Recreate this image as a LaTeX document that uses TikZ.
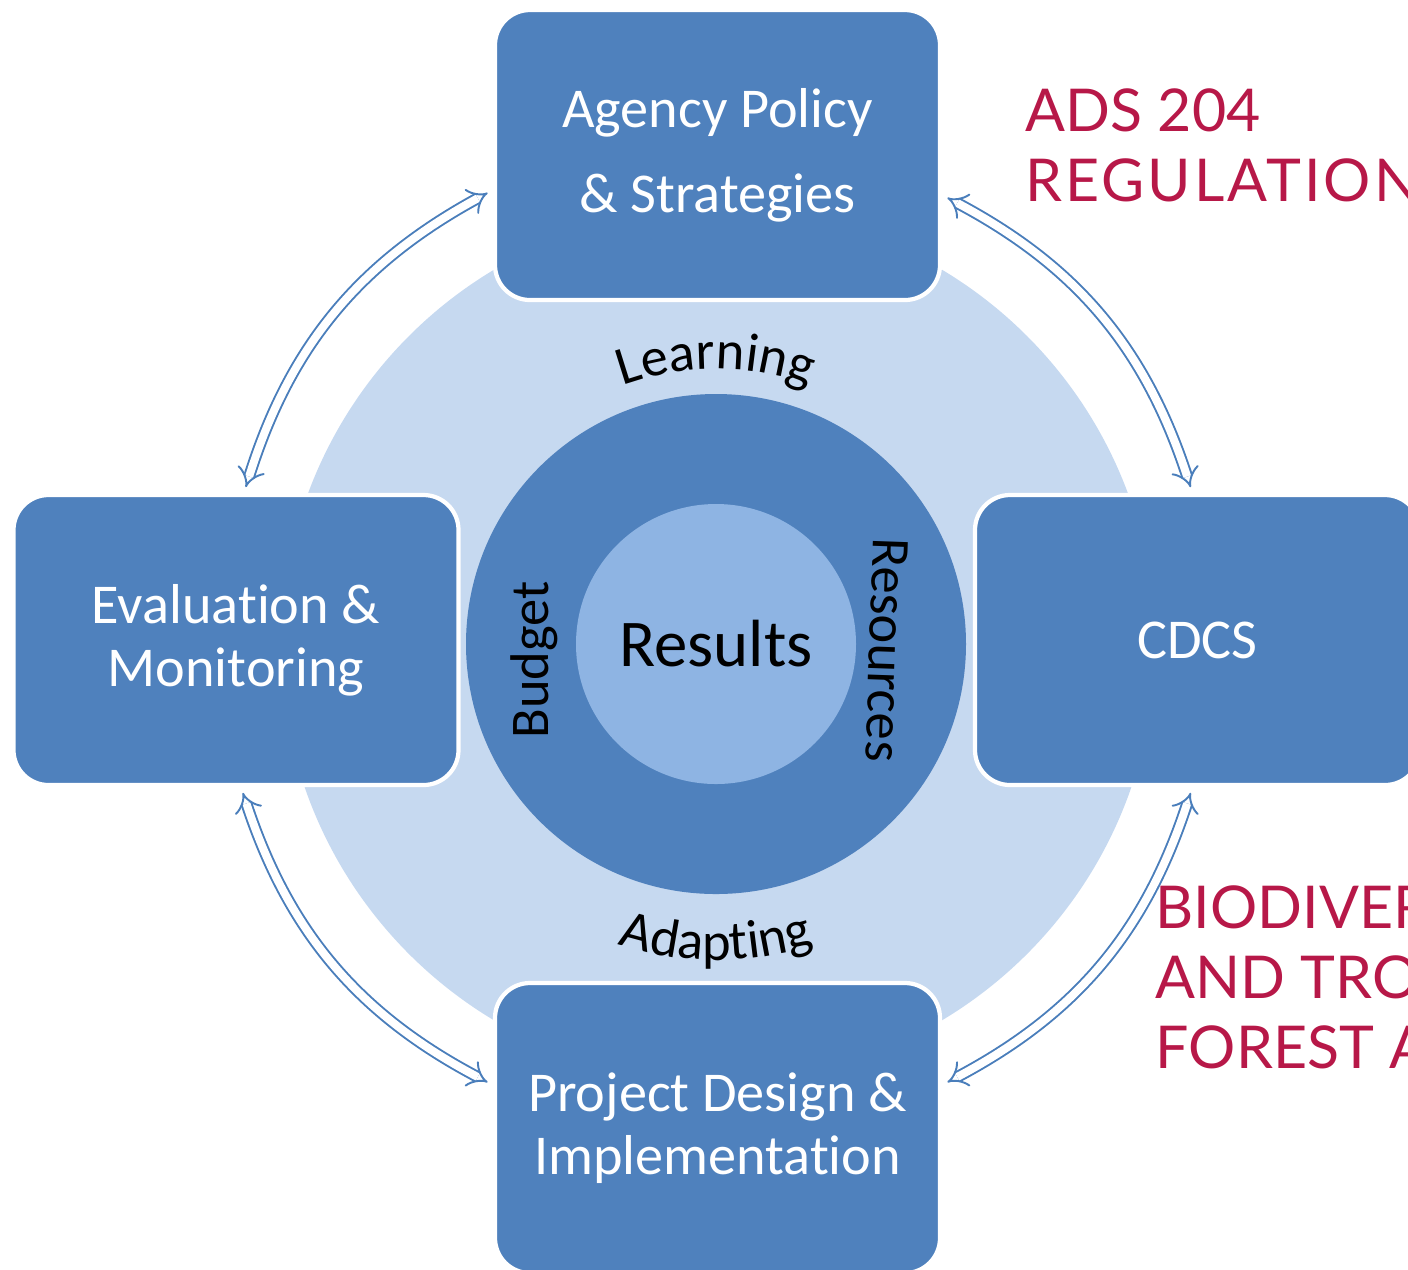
\documentclass[tikz,border=0pt]{standalone}
\usepackage{fontspec}
\setmainfont[Ligatures=NoCommon]{Carlito}
\newfontfamily\gillfont{Lato}
\usetikzlibrary{arrows.meta,decorations.text}
\definecolor{boxblue}{RGB}{79,129,189}
\definecolor{paleblue}{RGB}{198,217,240}
\definecolor{coreblue}{RGB}{142,180,227}
\definecolor{linkblue}{RGB}{74,126,187}
\definecolor{regred}{RGB}{183,24,72}
\tikzset{
  stagebox/.style={rectangle, rounded corners=0.35cm, fill=boxblue, draw=white,
    line width=1.2pt, minimum width=4.45cm, minimum height=2.9cm, align=center,
    text=white, font=\fontsize{16}{18}\selectfont},
  cyclelink/.style={draw=linkblue, double=white, double distance=0.08cm,
    line width=0.55pt, {Implies[scale=1.5]}-{Implies[scale=1.5]},
    shorten >=0.06cm, shorten <=0.06cm},
  regtext/.style={text=regred, font=\gillfont\fontsize{16.8}{19.9}\selectfont,
    align=left, anchor=north west, inner sep=0pt}
}
\newcommand\arcfont{\fontsize{15.5}{18}\selectfont}
\begin{document}
\begin{tikzpicture}
\useasboundingbox (0,0) rectangle (14.08,-12.69);
\clip (0,0) rectangle (14.08,-12.69);
\coordinate (hub) at (7.16,-6.44);
% circles in the middle
\node[circle,fill=paleblue,inner sep=0pt,minimum size=8.74cm] (disk) at (7.18,-6.45) {};
\node[circle,fill=boxblue,inner sep=0pt,minimum size=5cm] (ring) at (hub) {};
\node[circle,fill=coreblue,inner sep=0pt,minimum size=2.8cm,
  font=\fontsize{19}{22}\selectfont] (results) at (hub) {Results};
% the four stages
\node[stagebox] (agency) at (7.175,-1.55) {Agency Policy\\[0.22cm]\& Strategies};
\node[stagebox] (eval) at (2.36,-6.40) {Evaluation \&\\Monitoring};
\node[stagebox] (cdcs) at (11.975,-6.40) {CDCS};
\node[stagebox] (project) at (7.175,-11.28) {Project Design \&\\Implementation};
% words round the ring
\path[decorate,decoration={text along path,text align=center,text={|\arcfont|Learning}}]
  ([shift={(135:2.75)}]hub) arc[start angle=135,end angle=45,radius=2.75];
\path[decorate,decoration={text along path,text align=center,text={|\arcfont|Adapting}}]
  ([shift={(225:3.16)}]hub) arc[start angle=225,end angle=315,radius=3.16];
\node[rotate=90,font=\arcfont] (budget) at (5.34,-6.60) {Budget};
\node[rotate=-92,font=\arcfont] (resources) at (8.87,-6.50) {Resources};
% links between stages
\draw[cyclelink] ([yshift=-0.35cm]agency.west) to[bend right=22] ([xshift=0.08cm]eval.north);
\draw[cyclelink] ([yshift=-0.4cm]agency.east) to[bend left=22] ([xshift=-0.05cm]cdcs.north);
\draw[cyclelink] ([xshift=-0.05cm]cdcs.south) to[bend left=22] ([yshift=0.43cm]project.east);
\draw[cyclelink] ([yshift=0.43cm]project.west) to[bend left=22] ([xshift=0.05cm]eval.south);
% red notes
\node[regtext] (ads) at (10.25,-0.88) {ADS 204\\{\addfontfeature{LetterSpace=5}REGULATION}};
\node[regtext] (biodiv) at (11.55,-8.85) {BIODIVER\\AND TRO\\FOREST A};
\end{tikzpicture}
\end{document}
